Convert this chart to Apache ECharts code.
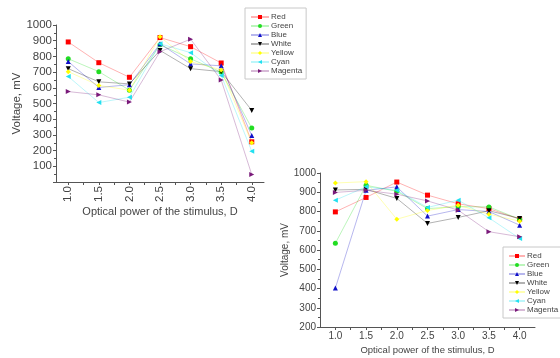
<!DOCTYPE html>
<html><head><meta charset="utf-8">
<script src="https://cdn.jsdelivr.net/npm/echarts@6/dist/echarts.min.js"></script>
<style>html,body{margin:0;padding:0;background:#fff}#c{width:560px;height:358px}</style>
</head><body><div id="c"></div>
<script>
const xValues = [1.0, 1.5, 2.0, 2.5, 3.0, 3.5, 4.0];
const xTickValues = [1.0, 1.25, 1.5, 1.75, 2.0, 2.25, 2.5, 2.75, 3.0, 3.25, 3.5, 3.75, 4.0];
const seriesNames = ['Red', 'Green', 'Blue', 'White', 'Yellow', 'Cyan', 'Magenta'];
const xTitle = 'Optical power of the stimulus, D';
const yTitle = 'Voltage, mV';

// Chart 1 (top-left)
const red1 = [892, 760, 667, 920, 862, 758, 256];
const green1 = [785, 703, 585, 875, 785, 700, 344];
const blue1 = [767, 602, 620, 880, 752, 740, 296];
const white1 = [722, 638, 625, 838, 722, 703, 456];
const yellow1 = [703, 615, 585, 925, 767, 714, 250];
const cyan1 = [672, 506, 540, 880, 824, 678, 196];
const magenta1 = [576, 555, 509, 830, 910, 650, 47];

// Chart 2 (bottom-right)
const red2 = [798, 873, 953, 885, 840, 815, 760];
const green2 = [635, 936, 905, 815, 825, 824, 760];
const blue2 = [402, 910, 928, 776, 810, 800, 729];
const white2 = [912, 915, 868, 738, 769, 804, 764];
const yellow2 = [948, 955, 760, 805, 833, 786, 750];
const cyan2 = [859, 928, 910, 821, 859, 767, 660];
const magenta2 = [899, 910, 890, 855, 807, 695, 669];

const data1 = [red1, green1, blue1, white1, yellow1, cyan1, magenta1];
const data2 = [red2, green2, blue2, white2, yellow2, cyan2, magenta2];

const colors = ['#ff0000', '#22dd22', '#1010c8', '#000000', '#ffff00', '#22e0f0', '#7a1a7a'];
const symbols = ['rect', 'circle', 'triangle',
  'path://M0,0 L10,0 L5,10 Z', 'diamond',
  'path://M10,0 L10,10 L0,5 Z', 'path://M0,0 L0,10 L10,5 Z'];

const FONT = 'Liberation Sans, Arial, sans-serif';
const TXT = '#444';

function xAxisDef(gridIndex, min, max, fs, rotate, nameGap, nameFs) {
  return {
    type: 'value', gridIndex, min, max,
    name: xTitle, nameLocation: 'middle', nameGap,
    nameTextStyle: { fontFamily: FONT, fontSize: nameFs, color: TXT },
    axisLine: { lineStyle: { color: '#555', width: 1 } },
    axisTick: { customValues: xTickValues, length: 3, lineStyle: { color: '#555' } },
    axisLabel: { customValues: xValues, rotate, fontFamily: FONT, fontSize: fs, color: TXT, margin: 4,
      formatter: v => Number(v).toFixed(1) },
    splitLine: { show: false }
  };
}
function yAxisDef(gridIndex, min, max, fs, nameGap, nameFs, showMin) {
  return {
    type: 'value', gridIndex, min, max, interval: 100,
    name: yTitle, nameLocation: 'middle', nameGap, nameRotate: 90,
    nameTextStyle: { fontFamily: FONT, fontSize: nameFs, color: TXT },
    axisLine: { show: true, lineStyle: { color: '#555', width: 1 } },
    axisTick: { show: true, length: 3, lineStyle: { color: '#555' } },
    minorTick: { show: true, splitNumber: 2, length: 2, lineStyle: { color: '#555' } },
    axisLabel: { showMinLabel: showMin, fontFamily: FONT, fontSize: fs, color: TXT, margin: 4,
      formatter: v => String(Math.round(v)) },
    splitLine: { show: false }
  };
}

const series = [];
[data1, data2].forEach((set, gi) => {
  set.forEach((vals, i) => {
    series.push({
      name: seriesNames[i], type: 'line',
      xAxisIndex: gi, yAxisIndex: gi,
      data: xValues.map((x, k) => [x, vals[k]]),
      symbol: symbols[i], symbolSize: 5,
      itemStyle: { color: colors[i] },
      lineStyle: { color: colors[i], width: 1, opacity: 0.3 },
      emphasis: { disabled: true },
      animation: false
    });
  });
});

function legendDef(left, top, itemWidth) {
  return {
    orient: 'vertical', left, top, data: seriesNames,
    itemWidth, itemHeight: 5, itemGap: 1,
    padding: [5, 4, 4, 5],
    borderColor: '#c8c8c8', borderWidth: 1,
    textStyle: { fontFamily: FONT, fontSize: 8, color: TXT, padding: [0, 0, 0, -3] },
    selectedMode: false
  };
}

const chart = echarts.init(document.getElementById('c'), null, { renderer: 'canvas' });
chart.setOption({
  backgroundColor: '#fff',
  animation: false,
  grid: [
    { left: 56, top: 25, width: 208, height: 157, containLabel: false },
    { left: 320, top: 173, width: 215, height: 154, containLabel: false }
  ],
  xAxis: [
    xAxisDef(0, 0.8, 4.2, 11.5, 90, 24, 11),
    xAxisDef(1, 0.75, 4.25, 10, 0, 18, 9.5)
  ],
  yAxis: [
    yAxisDef(0, 0, 1000, 11.5, 30, 11.5, false),
    yAxisDef(1, 200, 1000, 10, 29, 10, true)
  ],
  legend: [legendDef(245, 8, 18), legendDef(503, 247, 16)],
  series
});
</script></body></html>
